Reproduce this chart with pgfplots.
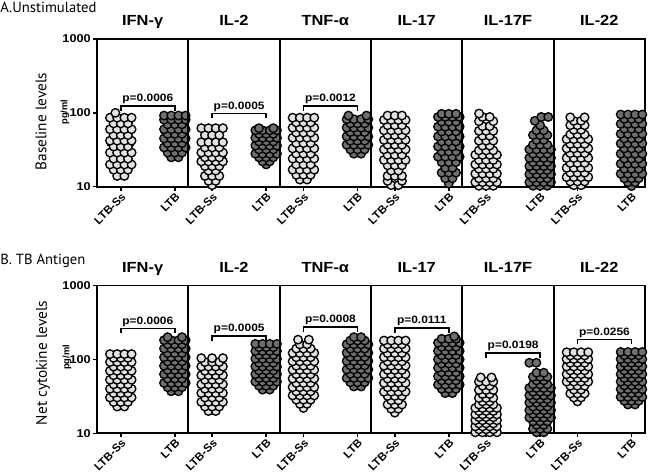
\documentclass[border=0pt]{standalone}
\usepackage{pgfplots}
\pgfplotsset{compat=1.18}
\usepackage{graphicx}
\usepackage{fontspec}
\setmainfont{Liberation Sans}
\newfontfamily\myriad{PT Sans}
\definecolor{ltfill}{HTML}{E2E2E2}
\definecolor{dkfill}{HTML}{6E6E6E}
\newcommand\sx[1]{\scalebox{1.12}[1]{#1}}
\newcommand\pf{\bfseries\fontsize{8.5}{10}\selectfont}
\newcommand\panel[4]{%
\begin{axis}[ymode=log, scale only axis, width=68.5pt, height=110.8pt, ymin=10, ymax=1000,
   xmin=0.56, xmax=2.25, xtick={1,2}, xticklabels={LTB-Ss,LTB},
   xticklabel style={rotate=45, anchor=north east, font=\pf, inner sep=0.5pt},
   xtick pos=bottom, ytick=\empty, yminorticks=false, xminorticks=false, tick align=outside,
   major tick length=3pt, tick style={line width=1.1pt, black},
   axis line style={line width=1.3pt}, clip=false,
   title style={font=\bfseries\fontsize{11}{13}\selectfont, anchor=base, yshift=4pt},
   anchor=south west, #1, at={#2}, title={#3}]
#4
\end{axis}}
\pgfplotsset{
 myLt/.style={only marks, mark=*, mark size=3.2pt, mark options={fill=ltfill, draw=black, line width=1pt}},
 myDk/.style={only marks, mark=*, mark size=3.2pt, mark options={fill=dkfill, draw=black, line width=1pt}},
 myMed/.style={black, line width=1.8pt, mark=none},
 myBr/.style={black, line width=1.4pt, mark=none},
}
\tikzset{ptext/.style={font=\bfseries\fontsize{8}{9}\selectfont, anchor=south, inner sep=1.5pt}}
\begin{document}
\begin{tikzpicture}
\path[use as bounding box] (0pt,0pt) rectangle (487.5pt,356.25pt);
\node[anchor=west, inner sep=0pt, font=\myriad\fontsize{11}{13}\selectfont] at (0pt,351pt) {A.Unstimulated};
\node[anchor=west, inner sep=0pt, font=\myriad\fontsize{11}{13}\selectfont] at (0pt,160.5pt) {B. TB Antigen};
\node[rotate=90, font=\myriad\fontsize{11.5}{13}\selectfont] at (30.75pt,265pt) {Baseline levels};
\node[rotate=90, font=\myriad\fontsize{11.5}{13}\selectfont] at (32.25pt,84pt) {Net cytokine levels};
\node[rotate=90, font=\bfseries\fontsize{7}{8}\selectfont] at (48.75pt,272.25pt) {pg/ml};
\node[rotate=90, font=\bfseries\fontsize{7}{8}\selectfont] at (50.25pt,88.1pt) {pg/ml};

% ================= ROW A =================
\panel{ytick={10,100,1000}, yticklabels={\sx{10},\sx{100},\sx{1000}}, ytick pos=left, yticklabel style={font=\pf, inner sep=1.5pt}}{(72.75pt,216.2pt)}{\sx{IFN-γ}}{%
\addplot[myLt] coordinates {(0.933,14)(1.067,14)
(0.867,17)(1,17)(1.133,17)
(0.8,20)(0.933,20)(1.067,20)(1.2,20)
(0.867,24)(1,24)(1.133,24)
(0.8,29)(0.933,29)(1.067,29)(1.2,29)
(0.867,35)(1,35)(1.133,35)
(0.8,42)(0.933,42)(1.067,42)(1.2,42)
(0.867,50)(1,50)(1.133,50)
(0.8,60)(0.933,60)(1.067,60)(1.2,60)
(0.867,72)(1,72)(1.133,72)
(0.8,86)(0.933,86)(1.067,86)(1.2,86)
(0.9,100)};
\addplot[myDk] coordinates {(1.933,25)(2.067,25)
(1.867,29)(2,29)(2.133,29)
(1.8,34)(1.933,34)(2.067,34)(2.2,34)
(1.867,39)(2,39)(2.133,39)
(1.8,45)(1.933,45)(2.067,45)(2.2,45)
(1.867,52)(2,52)(2.133,52)
(1.8,60)(1.933,60)(2.067,60)(2.2,60)
(1.867,70)(2,70)(2.133,70)
(1.8,81)(1.933,81)(2.067,81)(2.2,81)
(1.8,92)(1.933,92)(2.067,92)(2.2,92)};
\addplot[myMed] coordinates {(0.75,37)(1.25,37)};
\addplot[myMed] coordinates {(1.75,54)(2.25,54)};
\addplot[myBr] coordinates {(1,107)(1,125)(2,125)(2,107)};
\node[ptext] at (axis cs:1.5,125) {\sx{p=0.0006}};
}

\panel{}{(141.25pt,216.2pt)}{\sx{IL-2}}{%
\addplot[myLt] coordinates {(1,10.5)
(0.933,12)(1.067,12)
(0.867,14)(1,14)(1.133,14)
(0.933,16.5)(1.067,16.5)
(0.867,19)(1,19)(1.133,19)
(0.8,22)(0.933,22)(1.067,22)(1.2,22)
(0.867,25)(1,25)(1.133,25)
(0.8,29)(0.933,29)(1.067,29)(1.2,29)
(0.867,34)(1,34)(1.133,34)
(0.8,40)(0.933,40)(1.067,40)(1.2,40)
(0.867,50)(1,50)(1.133,50)
(0.8,62)(0.933,62)(1.067,62)(1.2,62)};
\addplot[myDk] coordinates {(2,20)
(1.933,22)(2.067,22)
(1.867,25)(2,25)(2.133,25)
(1.8,28)(1.933,28)(2.067,28)(2.2,28)
(1.867,32)(2,32)(2.133,32)
(1.8,36)(1.933,36)(2.067,36)(2.2,36)
(1.867,41)(2,41)(2.133,41)
(1.8,46)(1.933,46)(2.067,46)(2.2,46)
(1.867,52)(2,52)(2.133,52)
(1.8,58)(1.933,58)(2.067,58)(2.2,58)
(1.867,62)(2.133,62)};
\addplot[myMed] coordinates {(0.75,25)(1.25,25)};
\addplot[myMed] coordinates {(1.75,37)(2.25,37)};
\addplot[myBr] coordinates {(1,84)(1,98)(2,98)(2,84)};
\node[ptext] at (axis cs:1.5,98) {\sx{p=0.0005}};
}

\panel{}{(209.75pt,216.2pt)}{\sx{TNF-α}}{%
\addplot[myLt] coordinates {(0.933,12.5)(1.067,12.5)
(0.867,14.5)(1,14.5)(1.133,14.5)
(0.8,17)(0.933,17)(1.067,17)(1.2,17)
(0.867,20)(1,20)(1.133,20)
(0.8,24)(0.933,24)(1.067,24)(1.2,24)
(0.867,28)(1,28)(1.133,28)
(0.8,33)(0.933,33)(1.067,33)(1.2,33)
(0.867,39)(1,39)(1.133,39)
(0.8,46)(0.933,46)(1.067,46)(1.2,46)
(0.867,54)(1,54)(1.133,54)
(0.8,63)(0.933,63)(1.067,63)(1.2,63)
(0.867,74)(1,74)(1.133,74)
(0.8,86)(0.933,86)(1.067,86)(1.2,86)};
\addplot[myDk] coordinates {(1.933,28)(2.067,28)
(1.867,32)(2,32)(2.133,32)
(1.8,37)(1.933,37)(2.067,37)(2.2,37)
(1.867,42)(2,42)(2.133,42)
(1.8,48)(1.933,48)(2.067,48)(2.2,48)
(1.867,55)(2,55)(2.133,55)
(1.8,63)(1.933,63)(2.067,63)(2.2,63)
(1.867,72)(2,72)(2.133,72)
(1.8,82)(1.933,82)(2.067,82)(2.2,82)
(1.833,92)(2.167,92)};
\addplot[myMed] coordinates {(0.75,36)(1.25,36)};
\addplot[myMed] coordinates {(1.75,49)(2.25,49)};
\addplot[myBr] coordinates {(1,107)(1,125)(2,125)(2,107)};
\node[ptext] at (axis cs:1.5,125) {\sx{p=0.0012}};
}

\panel{}{(278.25pt,216.2pt)}{\sx{IL-17}}{%
\addplot[myLt] coordinates {(0.933,10.5)(1.067,10.5)
(0.867,12)(1.133,12)
(0.867,14)(1,14)(1.133,14)
(0.933,16.5)(1.067,16.5)
(0.867,19.5)(1,19.5)(1.133,19.5)
(0.8,23)(0.933,23)(1.067,23)(1.2,23)
(0.867,27)(1,27)(1.133,27)
(0.8,32)(0.933,32)(1.067,32)(1.2,32)
(0.867,37)(1,37)(1.133,37)
(0.8,43)(0.933,43)(1.067,43)(1.2,43)
(0.867,50)(1,50)(1.133,50)
(0.8,58)(0.933,58)(1.067,58)(1.2,58)
(0.867,68)(1,68)(1.133,68)
(0.8,80)(0.933,80)(1.067,80)(1.2,80)
(0.867,92)(1,92)(1.133,92)};
\addplot[myDk] coordinates {(2,11)
(1.933,13)(2.067,13)
(1.867,15.5)(2,15.5)(2.133,15.5)
(1.933,18)(2.067,18)
(1.867,21.5)(2,21.5)(2.133,21.5)
(1.8,25.5)(1.933,25.5)(2.067,25.5)(2.2,25.5)
(1.867,30)(2,30)(2.133,30)
(1.8,35)(1.933,35)(2.067,35)(2.2,35)
(1.867,41)(2,41)(2.133,41)
(1.8,48)(1.933,48)(2.067,48)(2.2,48)
(1.867,56)(2,56)(2.133,56)
(1.8,65)(1.933,65)(2.067,65)(2.2,65)
(1.867,76)(2,76)(2.133,76)
(1.8,88)(1.933,88)(2.067,88)(2.2,88)
(1.867,97)(2,97)(2.133,97)};
\addplot[myMed] coordinates {(0.75,42)(1.25,42)};
\addplot[myMed] coordinates {(1.75,47)(2.25,47)};
}

\panel{}{(346.75pt,216.2pt)}{\sx{IL-17F}}{%
\addplot[myLt] coordinates {(0.867,10.3)(1,10.3)(1.133,10.3)
(0.8,11.5)(0.933,11.5)(1.067,11.5)(1.2,11.5)
(0.867,13)(1,13)(1.133,13)
(0.8,15)(0.933,15)(1.067,15)(1.2,15)
(0.867,17.5)(1,17.5)(1.133,17.5)
(0.8,20)(0.933,20)(1.067,20)(1.2,20)
(0.867,23)(1,23)(1.133,23)
(0.8,27)(0.933,27)(1.067,27)(1.2,27)
(0.867,31)(1,31)(1.133,31)
(0.933,36)(1.067,36)
(0.867,42)(1,42)(1.133,42)
(0.933,49)(1.067,49)
(0.867,57)(1,57)(1.133,57)
(0.933,66)(1.067,66)
(0.867,77)(1.133,77)
(0.933,88)(1.067,88)
(0.87,98)};
\addplot[myDk] coordinates {(1.867,10.3)(2,10.3)(2.133,10.3)
(1.8,11.5)(1.933,11.5)(2.067,11.5)(2.2,11.5)
(1.867,13)(2,13)(2.133,13)
(1.8,14.8)(1.933,14.8)(2.067,14.8)(2.2,14.8)
(1.867,16.8)(2,16.8)(2.133,16.8)
(1.8,19)(1.933,19)(2.067,19)(2.2,19)
(1.867,21.5)(2,21.5)(2.133,21.5)
(1.8,24.5)(1.933,24.5)(2.067,24.5)(2.2,24.5)
(1.867,28)(2,28)(2.133,28)
(1.8,32)(1.933,32)(2.067,32)(2.2,32)
(1.867,37)(2,37)(2.133,37)
(1.933,43)(2.067,43)
(1.867,50)(2,50)(2.133,50)
(1.933,58)(2.067,58)
(2,68)
(1.9,78)
(2.02,88)(2.15,88)};
\addplot[myMed] coordinates {(0.75,25)(1.25,25)};
\addplot[myMed] coordinates {(1.75,23)(2.25,23)};
}

\panel{}{(415.25pt,216.2pt)}{\sx{IL-22}}{%
\addplot[myLt] coordinates {(0.933,10.5)(1.067,10.5)
(0.867,11.8)(1,11.8)(1.133,11.8)
(0.8,13.5)(0.933,13.5)(1.067,13.5)(1.2,13.5)
(0.867,15.5)(1,15.5)(1.133,15.5)
(0.8,18)(0.933,18)(1.067,18)(1.2,18)
(0.867,21)(1,21)(1.133,21)
(0.8,24.5)(0.933,24.5)(1.067,24.5)(1.2,24.5)
(0.867,28.5)(1,28.5)(1.133,28.5)
(0.8,33)(0.933,33)(1.067,33)(1.2,33)
(0.867,38)(1,38)(1.133,38)
(0.8,44)(0.933,44)(1.067,44)(1.2,44)
(0.867,51)(1,51)(1.133,51)
(0.933,59)(1.067,59)
(0.867,68)(1,68)(1.133,68)
(0.933,78)(1.067,78)
(0.867,87)(1.133,87)};
\addplot[myDk] coordinates {(2,10.2)
(1.933,11.5)(2.067,11.5)
(1.867,13)(2,13)(2.133,13)
(1.8,15)(1.933,15)(2.067,15)(2.2,15)
(1.867,17.5)(2,17.5)(2.133,17.5)
(1.8,20.5)(1.933,20.5)(2.067,20.5)(2.2,20.5)
(1.867,24)(2,24)(2.133,24)
(1.8,28)(1.933,28)(2.067,28)(2.2,28)
(1.867,33)(2,33)(2.133,33)
(1.8,38.5)(1.933,38.5)(2.067,38.5)(2.2,38.5)
(1.867,45)(2,45)(2.133,45)
(1.8,52)(1.933,52)(2.067,52)(2.2,52)
(1.867,61)(2,61)(2.133,61)
(1.8,71)(1.933,71)(2.067,71)(2.2,71)
(1.867,83)(2,83)(2.133,83)
(1.8,95)(1.933,95)(2.067,95)(2.2,95)};
\addplot[myMed] coordinates {(0.75,28)(1.25,28)};
\addplot[myMed] coordinates {(1.75,37)(2.25,37)};
}

% ================= ROW B =================
\panel{ytick={10,100,1000}, yticklabels={\sx{10},\sx{100},\sx{1000}}, ytick pos=left, yticklabel style={font=\pf, inner sep=1.5pt}}{(72.75pt,31.3pt)}{\sx{IFN-γ}}{%
\addplot[myLt] coordinates {(0.933,23)(1.067,23)
(0.867,26.5)(1,26.5)(1.133,26.5)
(0.8,30.5)(0.933,30.5)(1.067,30.5)(1.2,30.5)
(0.867,35)(1,35)(1.133,35)
(0.8,40)(0.933,40)(1.067,40)(1.2,40)
(0.867,46)(1,46)(1.133,46)
(0.8,53)(0.933,53)(1.067,53)(1.2,53)
(0.867,61)(1,61)(1.133,61)
(0.8,70)(0.933,70)(1.067,70)(1.2,70)
(0.867,80)(1,80)(1.133,80)
(0.8,92)(0.933,92)(1.067,92)(1.2,92)
(0.867,105)(1,105)(1.133,105)
(0.8,118)(0.933,118)(1.067,118)(1.2,118)};
\addplot[myDk] coordinates {(1.933,37)(2.067,37)
(1.867,42)(2,42)(2.133,42)
(1.8,48)(1.933,48)(2.067,48)(2.2,48)
(1.867,55)(2,55)(2.133,55)
(1.8,63)(1.933,63)(2.067,63)(2.2,63)
(1.867,72)(2,72)(2.133,72)
(1.8,82)(1.933,82)(2.067,82)(2.2,82)
(1.867,94)(2,94)(2.133,94)
(1.8,107)(1.933,107)(2.067,107)(2.2,107)
(1.867,122)(2,122)(2.133,122)
(1.8,140)(1.933,140)(2.067,140)(2.2,140)
(1.867,160)(2,160)(2.133,160)
(1.8,182)(1.933,182)(2.067,182)(2.2,182)
(1.867,200)(2.133,200)};
\addplot[myMed] coordinates {(0.75,58)(1.25,58)};
\addplot[myMed] coordinates {(1.75,91)(2.25,91)};
\addplot[myBr] coordinates {(1,225)(1,262)(2,262)(2,225)};
\node[ptext] at (axis cs:1.5,262) {\sx{p=0.0006}};
}

\panel{}{(141.25pt,31.3pt)}{\sx{IL-2}}{%
\addplot[myLt] coordinates {(0.933,20)(1.067,20)
(0.867,23)(1,23)(1.133,23)
(0.8,26.5)(0.933,26.5)(1.067,26.5)(1.2,26.5)
(0.867,30.5)(1,30.5)(1.133,30.5)
(0.8,35)(0.933,35)(1.067,35)(1.2,35)
(0.867,40)(1,40)(1.133,40)
(0.8,46)(0.933,46)(1.067,46)(1.2,46)
(0.867,53)(1,53)(1.133,53)
(0.8,61)(0.933,61)(1.067,61)(1.2,61)
(0.867,70)(1,70)(1.133,70)
(0.8,80)(0.933,80)(1.067,80)(1.2,80)
(0.867,92)(1,92)(1.133,92)
(0.8,104)(1,104)(1.2,104)};
\addplot[myDk] coordinates {(1.933,39)(2.067,39)
(1.867,44)(2,44)(2.133,44)
(1.8,50)(1.933,50)(2.067,50)(2.2,50)
(1.867,56)(2,56)(2.133,56)
(1.8,63)(1.933,63)(2.067,63)(2.2,63)
(1.867,71)(2,71)(2.133,71)
(1.8,80)(1.933,80)(2.067,80)(2.2,80)
(1.867,90)(2,90)(2.133,90)
(1.8,102)(1.933,102)(2.067,102)(2.2,102)
(1.867,115)(2,115)(2.133,115)
(1.8,130)(1.933,130)(2.067,130)(2.2,130)
(1.867,146)(2,146)(2.133,146)
(1.8,162)(1.933,162)(2.067,162)(2.2,162)};
\addplot[myMed] coordinates {(0.75,48)(1.25,48)};
\addplot[myMed] coordinates {(1.75,73)(2.25,73)};
\addplot[myBr] coordinates {(1,178)(1,207)(2,207)(2,178)};
\node[ptext] at (axis cs:1.5,207) {\sx{p=0.0005}};
}

\panel{}{(209.75pt,31.3pt)}{\sx{TNF-α}}{%
\addplot[myLt] coordinates {(1,22)
(0.933,25)(1.067,25)
(0.867,28.5)(1,28.5)(1.133,28.5)
(0.8,32.5)(0.933,32.5)(1.067,32.5)(1.2,32.5)
(0.867,37)(1,37)(1.133,37)
(0.8,42)(0.933,42)(1.067,42)(1.2,42)
(0.867,48)(1,48)(1.133,48)
(0.8,55)(0.933,55)(1.067,55)(1.2,55)
(0.867,63)(1,63)(1.133,63)
(0.8,72)(0.933,72)(1.067,72)(1.2,72)
(0.867,82)(1,82)(1.133,82)
(0.8,94)(0.933,94)(1.067,94)(1.2,94)
(0.867,107)(1,107)(1.133,107)
(0.8,122)(0.933,122)(1.067,122)(1.2,122)
(0.867,140)(1,140)(1.133,140)
(0.933,160)(1.067,160)
(0.9,185)(1.1,185)};
\addplot[myDk] coordinates {(1.933,43)(2.067,43)
(1.867,49)(2,49)(2.133,49)
(1.8,56)(1.933,56)(2.067,56)(2.2,56)
(1.867,64)(2,64)(2.133,64)
(1.8,73)(1.933,73)(2.067,73)(2.2,73)
(1.867,83)(2,83)(2.133,83)
(1.8,95)(1.933,95)(2.067,95)(2.2,95)
(1.867,108)(2,108)(2.133,108)
(1.8,123)(1.933,123)(2.067,123)(2.2,123)
(1.867,140)(2,140)(2.133,140)
(1.8,160)(1.933,160)(2.067,160)(2.2,160)
(1.867,180)(2,180)(2.133,180)
(1.933,200)(2.067,200)};
\addplot[myMed] coordinates {(0.75,73)(1.25,73)};
\addplot[myMed] coordinates {(1.75,100)(2.25,100)};
\addplot[myBr] coordinates {(1,237)(1,276)(2,276)(2,237)};
\node[ptext] at (axis cs:1.5,276) {\sx{p=0.0008}};
}

\panel{}{(278.25pt,31.3pt)}{\sx{IL-17}}{%
\addplot[myLt] coordinates {(1,19)
(0.933,21.5)(1.067,21.5)
(0.867,24.5)(1,24.5)(1.133,24.5)
(0.933,28)(1.067,28)
(0.867,32)(1,32)(1.133,32)
(0.8,36.5)(0.933,36.5)(1.067,36.5)(1.2,36.5)
(0.867,42)(1,42)(1.133,42)
(0.8,48)(0.933,48)(1.067,48)(1.2,48)
(0.867,55)(1,55)(1.133,55)
(0.8,63)(0.933,63)(1.067,63)(1.2,63)
(0.867,72)(1,72)(1.133,72)
(0.8,82)(0.933,82)(1.067,82)(1.2,82)
(0.867,94)(1,94)(1.133,94)
(0.8,107)(0.933,107)(1.067,107)(1.2,107)
(0.867,122)(1,122)(1.133,122)
(0.8,140)(0.933,140)(1.067,140)(1.2,140)
(0.867,160)(1,160)(1.133,160)
(0.8,180)(0.933,180)(1.067,180)(1.2,180)};
\addplot[myDk] coordinates {(1.933,35)(2.067,35)
(1.867,40)(2,40)(2.133,40)
(1.8,45.5)(1.933,45.5)(2.067,45.5)(2.2,45.5)
(1.867,52)(2,52)(2.133,52)
(1.8,59)(1.933,59)(2.067,59)(2.2,59)
(1.867,67)(2,67)(2.133,67)
(1.8,77)(1.933,77)(2.067,77)(2.2,77)
(1.867,88)(2,88)(2.133,88)
(1.8,100)(1.933,100)(2.067,100)(2.2,100)
(1.867,114)(2,114)(2.133,114)
(1.8,130)(1.933,130)(2.067,130)(2.2,130)
(1.867,148)(2,148)(2.133,148)
(1.8,168)(1.933,168)(2.067,168)(2.2,168)
(1.867,190)(2,190)(2.133,190)
(2.1,205)};
\addplot[myMed] coordinates {(0.75,72)(1.25,72)};
\addplot[myMed] coordinates {(1.75,91)(2.25,91)};
\addplot[myBr] coordinates {(1,230)(1,268)(2,268)(2,230)};
\node[ptext] at (axis cs:1.5,268) {\sx{p=0.0111}};
}

\panel{}{(346.75pt,31.3pt)}{\sx{IL-17F}}{%
\addplot[myLt] coordinates {(0.8,10.3)(0.933,10.3)(1.067,10.3)(1.2,10.3)
(0.867,11.3)(1,11.3)(1.133,11.3)
(0.8,12.4)(0.933,12.4)(1.067,12.4)(1.2,12.4)
(0.867,13.6)(1,13.6)(1.133,13.6)
(0.8,15)(0.933,15)(1.067,15)(1.2,15)
(0.867,16.5)(1,16.5)(1.133,16.5)
(0.8,18)(0.933,18)(1.067,18)(1.2,18)
(0.867,20)(1,20)(1.133,20)
(0.8,22)(0.933,22)(1.067,22)(1.2,22)
(0.867,24.5)(1,24.5)(1.133,24.5)
(0.933,27)(1.067,27)
(0.867,30)(1,30)(1.133,30)
(0.933,34)(1.067,34)
(0.867,38.5)(1,38.5)(1.133,38.5)
(0.933,44)(1.067,44)
(0.867,50)(1,50)(1.133,50)
(0.9,57)(1.1,57)};
\addplot[myDk] coordinates {(1.933,10.3)(2.067,10.3)
(1.867,11.5)(2,11.5)(2.133,11.5)
(1.933,13)(2.067,13)
(1.867,14.5)(2,14.5)(2.133,14.5)
(1.8,16.3)(1.933,16.3)(2.067,16.3)(2.2,16.3)
(1.867,18.3)(2,18.3)(2.133,18.3)
(1.8,20.5)(1.933,20.5)(2.067,20.5)(2.2,20.5)
(1.867,23)(2,23)(2.133,23)
(1.8,26)(1.933,26)(2.067,26)(2.2,26)
(1.867,29)(2,29)(2.133,29)
(1.8,32.5)(1.933,32.5)(2.067,32.5)(2.2,32.5)
(1.867,36.5)(2,36.5)(2.133,36.5)
(1.8,41)(1.933,41)(2.067,41)(2.2,41)
(1.867,46)(2,46)(2.133,46)
(1.933,52)(2.067,52)
(1.867,58)(2,58)(2.133,58)
(1.933,66)(2.067,66)
(1.8,90)(1.93,90)};
\addplot[myMed] coordinates {(0.75,19)(1.25,19)};
\addplot[myMed] coordinates {(1.75,29)(2.25,29)};
\addplot[myBr] coordinates {(1,106)(1,123)(2,123)(2,106)};
\node[ptext] at (axis cs:1.5,123) {\sx{p=0.0198}};
}

\panel{}{(415.25pt,31.3pt)}{\sx{IL-22}}{%
\addplot[myLt] coordinates {(1,27)
(0.933,30.5)(1.067,30.5)
(0.867,34.5)(1,34.5)(1.133,34.5)
(0.933,39)(1.067,39)
(0.867,44)(1,44)(1.133,44)
(0.8,50)(0.933,50)(1.067,50)(1.2,50)
(0.867,56)(1,56)(1.133,56)
(0.8,63)(0.933,63)(1.067,63)(1.2,63)
(0.867,71)(1,71)(1.133,71)
(0.8,80)(0.933,80)(1.067,80)(1.2,80)
(0.867,90)(1,90)(1.133,90)
(0.8,101)(0.933,101)(1.067,101)(1.2,101)
(0.867,113)(1,113)(1.133,113)
(0.8,125)(0.933,125)(1.067,125)(1.2,125)};
\addplot[myDk] coordinates {(1.933,24.5)(2.067,24.5)
(1.867,27.5)(2,27.5)(2.133,27.5)
(1.8,31)(1.933,31)(2.067,31)(2.2,31)
(1.867,35)(2,35)(2.133,35)
(1.8,39.5)(1.933,39.5)(2.067,39.5)(2.2,39.5)
(1.867,44.5)(2,44.5)(2.133,44.5)
(1.8,50)(1.933,50)(2.067,50)(2.2,50)
(1.867,56)(2,56)(2.133,56)
(1.8,63)(1.933,63)(2.067,63)(2.2,63)
(1.867,71)(2,71)(2.133,71)
(1.8,80)(1.933,80)(2.067,80)(2.2,80)
(1.867,90)(2,90)(2.133,90)
(1.8,101)(1.933,101)(2.067,101)(2.2,101)
(1.867,114)(2,114)(2.133,114)
(1.8,126)(1.933,126)(2.067,126)(2.2,126)};
\addplot[myMed] coordinates {(0.75,72)(1.25,72)};
\addplot[myMed] coordinates {(1.75,61)(2.25,61)};
\addplot[myBr] coordinates {(1,160)(1,186)(2,186)(2,160)};
\node[ptext] at (axis cs:1.5,186) {\sx{p=0.0256}};
}
\end{tikzpicture}
\end{document}
